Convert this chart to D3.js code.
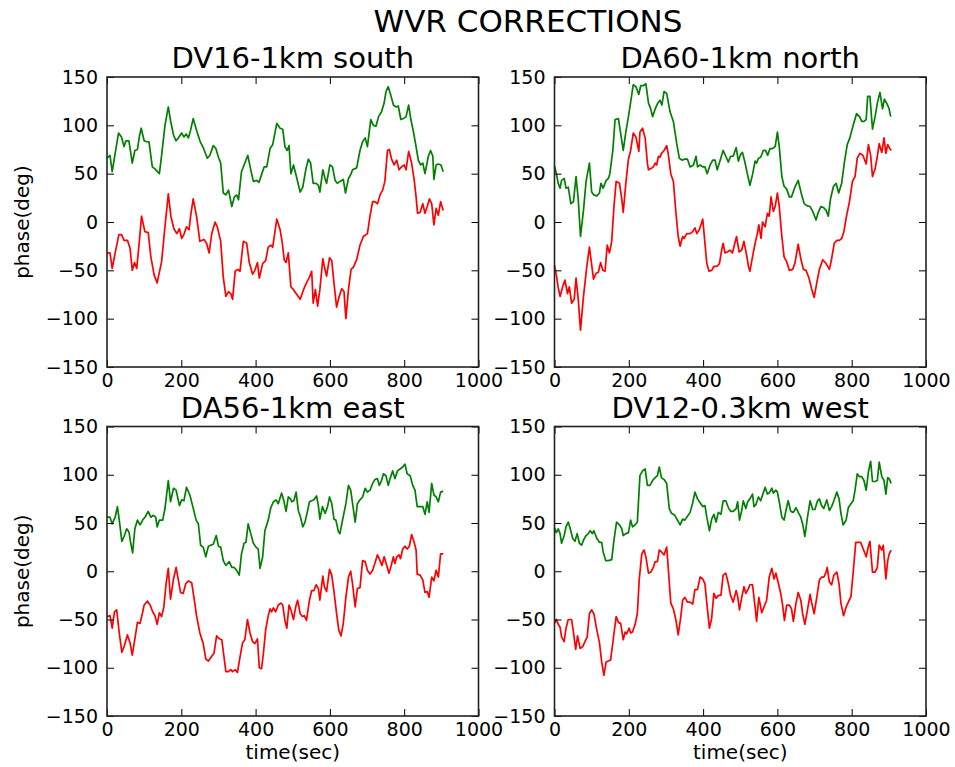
<!DOCTYPE html>
<html>
<head>
<meta charset="utf-8">
<script src="https://cdn.jsdelivr.net/npm/d3@7/dist/d3.min.js"></script>
<style>
  html, body { margin: 0; padding: 0; background: #fff; }
  svg { display: block; font-family: "DejaVu Sans", sans-serif; }
</style>
</head>
<body>
<svg id="chart" width="955" height="767"></svg>
<script>
// WVR phase corrections, [time (sec), phase (deg)] per antenna
const southGreen = [[0,66],[8,69],[14,52],[22,71],[31,92],[39,88],[46,78],[51,84],[59,84],[68,61],[75,74],[82,75],[87,88],[92,97],[100,84],[107,83],[113,83],[122,57],[129,55],[141,50],[147,69],[156,100],[165,119],[171,105],[179,90],[186,84],[192,87],[201,92],[207,88],[213,91],[219,87],[225,95],[232,107],[241,95],[250,84],[259,77],[270,66],[277,69],[286,79],[293,76],[300,67],[306,61],[313,30],[320,28],[327,33],[336,16],[343,26],[349,28],[354,23],[362,52],[369,59],[379,69],[387,54],[394,42],[403,43],[409,41],[416,49],[423,57],[430,57],[439,76],[446,80],[457,102],[466,97],[473,96],[479,78],[485,74],[490,79],[495,50],[502,59],[508,50],[520,31],[527,36],[536,56],[542,65],[548,61],[555,40],[563,40],[569,38],[573,31],[581,54],[587,45],[591,40],[600,59],[607,57],[614,43],[620,40],[627,42],[636,44],[642,30],[650,45],[656,49],[661,54],[672,56],[681,74],[688,83],[695,87],[701,78],[710,106],[717,100],[724,99],[731,109],[739,114],[746,123],[751,135],[757,140],[764,131],[771,121],[778,119],[784,120],[791,106],[798,107],[805,109],[812,121],[818,106],[825,93],[831,80],[838,64],[844,59],[850,61],[856,50],[865,68],[871,74],[877,68],[880,44],[886,59],[892,60],[899,59],[905,52]];
const southRed = [[0,-32],[8,-32],[14,-48],[22,-32],[32,-13],[39,-13],[46,-19],[55,-19],[62,-27],[68,-50],[74,-42],[80,-48],[87,-20],[93,6],[102,-10],[111,-11],[118,-36],[127,-55],[135,-63],[147,-41],[156,-5],[165,29],[172,6],[180,-7],[188,-12],[195,-7],[201,-17],[207,-13],[214,-5],[221,-8],[225,6],[232,24],[241,6],[250,-20],[261,-18],[268,-22],[275,-32],[282,-12],[291,0],[297,-5],[306,-20],[313,-57],[320,-77],[327,-72],[333,-74],[338,-80],[345,-51],[352,-49],[358,-51],[367,-20],[376,-22],[383,-42],[392,-54],[398,-50],[405,-42],[410,-58],[419,-43],[427,-40],[434,-26],[441,-24],[446,-26],[457,3],[466,-8],[472,-22],[477,-39],[482,-42],[488,-32],[495,-67],[502,-70],[509,-74],[520,-80],[529,-70],[537,-63],[545,-57],[551,-51],[555,-84],[561,-70],[567,-87],[573,-70],[581,-38],[585,-46],[591,-56],[599,-37],[605,-40],[612,-67],[618,-88],[625,-77],[632,-69],[638,-72],[643,-100],[650,-70],[657,-49],[663,-47],[672,-39],[681,-24],[690,-15],[701,-12],[708,6],[715,21],[721,21],[728,19],[735,28],[742,33],[748,42],[755,74],[760,75],[766,65],[773,59],[780,64],[786,54],[793,57],[800,59],[805,54],[812,73],[820,61],[827,43],[832,26],[836,9],[843,10],[850,19],[856,9],[862,16],[868,24],[874,19],[880,-3],[886,14],[892,7],[898,21],[905,12]];

const northGreen = [[0,58],[5,50],[10,40],[15,35],[19,43],[26,45],[31,35],[37,36],[44,19],[51,21],[58,47],[64,23],[70,-15],[78,12],[85,42],[94,61],[100,31],[106,28],[114,27],[121,30],[125,40],[131,35],[139,43],[145,45],[149,50],[157,74],[163,106],[172,107],[178,92],[185,74],[192,93],[199,109],[205,124],[212,142],[219,140],[227,132],[232,141],[239,141],[246,143],[253,123],[259,117],[264,109],[271,117],[278,123],[284,126],[289,121],[295,135],[302,133],[311,114],[320,104],[329,81],[336,66],[343,64],[351,65],[358,65],[365,57],[374,59],[381,68],[385,57],[392,59],[399,57],[405,57],[411,50],[419,59],[426,64],[432,64],[438,54],[446,64],[454,74],[461,68],[468,62],[474,68],[481,68],[489,77],[495,63],[501,70],[506,72],[513,61],[519,50],[526,38],[533,49],[540,63],[544,61],[549,66],[555,67],[562,74],[568,74],[574,69],[580,76],[587,76],[594,78],[600,93],[605,78],[612,47],[618,37],[625,34],[632,26],[638,26],[647,36],[656,43],[664,30],[672,19],[679,17],[688,16],[695,11],[704,2],[710,10],[717,16],[724,15],[731,12],[737,6],[743,24],[751,37],[758,40],[765,30],[773,40],[780,61],[788,80],[795,87],[804,100],[813,112],[821,109],[827,104],[833,104],[839,106],[843,130],[849,130],[856,96],[863,109],[869,123],[876,134],[883,117],[888,127],[894,123],[900,118],[905,109]];
const northRed = [[0,-45],[5,-55],[10,-68],[15,-77],[22,-67],[28,-60],[35,-74],[40,-67],[46,-84],[53,-80],[58,-58],[64,-80],[70,-112],[78,-77],[87,-46],[94,-26],[100,-44],[105,-59],[112,-53],[118,-52],[124,-42],[130,-50],[136,-51],[142,-24],[148,-32],[154,-20],[160,16],[166,42],[175,40],[181,24],[185,10],[192,40],[199,65],[205,74],[212,92],[219,88],[227,73],[230,93],[237,97],[244,87],[250,61],[253,54],[259,55],[266,57],[271,61],[275,59],[280,68],[284,67],[288,71],[295,74],[302,79],[306,71],[313,50],[320,42],[327,9],[333,-15],[338,-25],[345,-15],[349,-17],[356,-12],[365,-12],[372,-10],[378,-6],[383,-12],[390,-8],[399,3],[405,-22],[410,-43],[416,-51],[423,-50],[429,-46],[437,-46],[444,-43],[450,-29],[454,-22],[459,-32],[466,-31],[472,-29],[479,-32],[484,-24],[490,-15],[497,-31],[504,-29],[510,-20],[517,-34],[522,-46],[526,-51],[533,-36],[540,-22],[546,-12],[550,-3],[556,-17],[560,0],[567,-5],[573,9],[578,6],[583,26],[589,11],[594,16],[600,30],[605,16],[612,-15],[618,-36],[625,-41],[632,-50],[641,-49],[647,-43],[656,-23],[663,-38],[670,-49],[677,-50],[685,-58],[692,-69],[699,-78],[706,-63],[713,-49],[722,-39],[731,-43],[740,-49],[746,-38],[753,-22],[760,-19],[767,-19],[773,-17],[779,-10],[786,6],[794,21],[802,42],[809,47],[815,66],[822,71],[830,69],[839,60],[845,80],[851,69],[856,47],[863,55],[869,68],[874,81],[881,72],[887,87],[892,71],[897,80],[901,77],[906,74]];

const eastGreen = [[0,56],[8,56],[14,49],[22,56],[28,67],[33,53],[40,31],[46,36],[53,44],[59,41],[64,29],[69,19],[75,44],[82,53],[89,48],[96,53],[102,56],[111,62],[118,56],[125,58],[131,56],[135,46],[141,53],[150,53],[156,65],[165,94],[171,72],[179,86],[186,84],[195,68],[201,74],[207,73],[214,87],[223,79],[231,67],[240,53],[246,49],[252,27],[259,25],[266,15],[273,26],[279,27],[286,28],[294,37],[300,26],[306,25],[313,11],[320,6],[329,10],[336,4],[342,4],[349,1],[356,-4],[362,18],[369,29],[374,30],[380,49],[387,39],[394,29],[401,25],[407,23],[412,3],[419,15],[425,42],[434,53],[441,66],[448,72],[455,74],[461,70],[470,81],[476,73],[482,62],[488,77],[494,75],[497,72],[503,73],[509,82],[515,63],[521,56],[527,46],[533,51],[539,61],[545,72],[551,73],[557,74],[564,78],[569,68],[573,54],[580,67],[587,60],[593,66],[599,77],[605,70],[611,54],[616,53],[623,41],[627,39],[634,53],[643,70],[650,89],[656,84],[663,65],[668,51],[674,70],[681,74],[688,77],[695,86],[701,82],[708,84],[715,91],[721,95],[728,96],[733,89],[739,94],[744,101],[751,99],[757,89],[762,96],[769,104],[775,96],[782,104],[789,106],[796,108],[802,111],[808,101],[816,99],[823,89],[829,84],[835,67],[843,67],[850,67],[856,59],[862,72],[867,61],[874,91],[880,79],[886,77],[892,72],[898,82],[905,83]];
const eastRed = [[0,-47],[8,-46],[14,-59],[20,-42],[26,-40],[33,-64],[40,-84],[46,-78],[55,-66],[62,-74],[68,-87],[75,-70],[82,-53],[89,-54],[95,-44],[100,-35],[109,-31],[116,-35],[123,-42],[129,-46],[135,-55],[141,-43],[147,-47],[153,-37],[159,-13],[165,3],[171,-29],[179,-8],[186,4],[192,-9],[198,-22],[205,-23],[212,-13],[219,-10],[228,-12],[234,-27],[241,-46],[250,-64],[259,-75],[266,-91],[273,-93],[282,-88],[288,-85],[295,-67],[302,-70],[309,-71],[315,-89],[320,-104],[327,-104],[333,-102],[338,-104],[345,-102],[351,-105],[358,-89],[365,-74],[371,-71],[378,-50],[385,-64],[392,-73],[398,-75],[405,-70],[410,-100],[416,-101],[421,-85],[427,-61],[434,-46],[439,-39],[443,-42],[448,-38],[454,-42],[461,-35],[468,-33],[473,-35],[479,-51],[484,-59],[490,-35],[495,-40],[502,-50],[508,-37],[513,-30],[520,-44],[526,-47],[531,-46],[537,-51],[545,-30],[551,-20],[557,-20],[563,-14],[569,-18],[573,-30],[581,-5],[585,-16],[591,-21],[599,2],[605,-4],[611,-21],[618,-44],[624,-61],[630,-67],[636,-54],[643,-27],[650,-6],[656,0],[661,-13],[668,-37],[674,-18],[681,-17],[688,11],[695,10],[701,1],[708,-3],[715,1],[721,8],[728,17],[735,11],[740,6],[746,15],[753,6],[759,-2],[765,6],[771,15],[775,8],[780,15],[786,17],[790,13],[796,23],[802,26],[808,23],[814,26],[820,38],[826,31],[832,22],[835,-3],[843,-4],[850,-9],[856,-22],[862,-21],[867,-27],[874,-6],[880,-10],[886,1],[892,-6],[898,18],[905,18]];

const westGreen = [[0,45],[5,40],[10,44],[15,39],[19,29],[26,37],[31,46],[37,51],[44,42],[49,34],[55,31],[61,39],[67,29],[73,27],[79,33],[85,37],[91,39],[96,42],[102,39],[106,42],[114,34],[121,30],[127,30],[131,20],[138,11],[145,11],[154,12],[160,32],[167,51],[175,48],[181,44],[185,37],[192,39],[199,40],[205,53],[210,46],[217,48],[223,51],[230,99],[237,104],[244,106],[250,89],[257,89],[264,94],[271,97],[277,99],[282,108],[288,97],[295,95],[302,91],[309,65],[315,60],[324,58],[331,53],[338,48],[345,54],[351,53],[358,57],[365,61],[372,71],[378,82],[385,75],[392,71],[399,67],[405,68],[410,56],[417,42],[423,54],[429,59],[435,51],[441,61],[448,59],[454,73],[461,73],[468,66],[474,62],[481,62],[489,65],[493,72],[498,53],[504,63],[508,73],[515,65],[520,72],[526,75],[533,80],[537,67],[542,69],[549,77],[555,73],[560,79],[567,87],[573,80],[578,81],[585,86],[589,81],[596,84],[600,82],[605,72],[612,56],[618,53],[623,63],[629,73],[636,62],[643,61],[650,66],[656,61],[663,56],[668,49],[674,36],[681,56],[688,73],[695,64],[701,64],[708,73],[713,75],[719,68],[725,65],[733,74],[740,63],[746,67],[752,73],[760,82],[766,75],[771,60],[777,48],[785,53],[791,66],[798,70],[804,73],[809,84],[815,101],[821,98],[827,98],[833,94],[839,84],[845,103],[851,114],[856,93],[863,93],[869,94],[874,113],[881,98],[887,94],[892,80],[897,97],[901,96],[906,91]];
const westRed = [[0,-54],[5,-50],[10,-55],[15,-58],[19,-68],[26,-73],[31,-59],[37,-50],[46,-50],[51,-63],[57,-81],[62,-67],[69,-80],[76,-78],[82,-73],[88,-68],[94,-44],[100,-40],[106,-44],[114,-61],[121,-74],[127,-94],[133,-108],[139,-94],[145,-93],[151,-92],[158,-71],[166,-47],[172,-53],[178,-54],[185,-71],[190,-63],[194,-65],[201,-59],[205,-64],[210,-63],[217,-55],[223,-44],[228,-9],[235,18],[241,22],[246,15],[253,-2],[259,-1],[266,4],[271,10],[277,10],[282,22],[288,20],[295,17],[302,25],[308,-6],[313,-33],[320,-39],[327,-51],[333,-66],[340,-47],[345,-30],[351,-27],[358,-32],[365,-32],[372,-34],[378,-19],[385,-19],[392,-6],[399,-8],[405,-13],[410,-33],[417,-59],[423,-49],[429,-23],[435,-28],[441,-25],[448,-25],[454,-4],[461,-2],[468,-13],[474,-25],[481,-32],[489,-20],[493,-26],[498,-40],[504,-27],[510,-16],[515,-23],[522,-18],[526,-14],[533,-14],[540,-37],[544,-52],[550,-27],[558,-43],[564,-37],[571,-30],[578,-6],[585,3],[591,-8],[596,-2],[603,-13],[609,-23],[614,-35],[619,-51],[625,-35],[632,-35],[638,-39],[643,-52],[650,-33],[656,-22],[663,-30],[668,-44],[674,-55],[681,-40],[688,-24],[692,-32],[699,-44],[706,-27],[713,-9],[719,-6],[725,-6],[731,-1],[734,4],[740,-11],[746,-14],[752,-4],[760,-1],[766,-13],[771,-33],[778,-46],[785,-37],[791,-32],[798,-26],[804,-1],[811,30],[818,30],[824,30],[831,23],[839,15],[845,26],[849,31],[856,-1],[863,-1],[869,4],[874,27],[881,22],[885,27],[892,-8],[897,11],[901,18],[906,22]];

const panelTitles = ["DV16-1km south", "DA60-1km north", "DA56-1km east", "DV12-0.3km west"];
const xTicks = [0, 200, 400, 600, 800, 1000];
const yTicks = [-150, -100, -50, 0, 50, 100, 150];
const xDomain = [0, 1000];
const yDomain = [-150, 150];

const panels = [
  { title: panelTitles[0], green: southGreen, red: southRed, col: 0, row: 0 },
  { title: panelTitles[1], green: northGreen, red: northRed, col: 1, row: 0 },
  { title: panelTitles[2], green: eastGreen, red: eastRed, col: 0, row: 1 },
  { title: panelTitles[3], green: westGreen, red: westRed, col: 1, row: 1 }
];

// subplot grid geometry
const colX = [[107, 478.5], [554.5, 926]];
const rowY = [[77, 367], [426.5, 716]];
const tickFont = 19;
const tickLen = 7;
const fmt = d3.format("d");

const svg = d3.select("#chart");

svg.append("text")
  .attr("x", 528).attr("y", 32)
  .attr("text-anchor", "middle")
  .attr("font-size", 31)
  .attr("fill", "#000")
  .text("WVR CORRECTIONS");

panels.forEach(p => {
  const [x0, x1] = colX[p.col];
  const [y0, y1] = rowY[p.row];
  const x = d3.scaleLinear().domain(xDomain).range([x0, x1]);
  const y = d3.scaleLinear().domain(yDomain).range([y1, y0]);
  const g = svg.append("g");

  const line = d3.line().x(d => x(d[0])).y(d => y(d[1]));

  g.append("path").datum(p.green)
    .attr("d", line).attr("fill", "none")
    .attr("stroke", "#008000").attr("stroke-width", 1.7)
    .attr("stroke-linejoin", "round");
  g.append("path").datum(p.red)
    .attr("d", line).attr("fill", "none")
    .attr("stroke", "#ff0000").attr("stroke-width", 1.7)
    .attr("stroke-linejoin", "round");

  // axes with inward ticks on all four sides
  const styleAxis = sel => {
    sel.select(".domain").remove();
    sel.selectAll(".tick line").attr("stroke", "#000").attr("stroke-width", 1);
    sel.selectAll(".tick text").attr("font-size", tickFont)
      .attr("font-family", "DejaVu Sans, sans-serif").attr("fill", "#000");
  };

  g.append("g").attr("transform", `translate(0,${y1})`)
    .call(d3.axisBottom(x).tickValues(xTicks).tickFormat(fmt).tickSizeInner(-tickLen).tickSizeOuter(0).tickPadding(7))
    .call(styleAxis);
  g.append("g").attr("transform", `translate(0,${y0})`)
    .call(d3.axisTop(x).tickValues(xTicks).tickSizeInner(-tickLen).tickSizeOuter(0).tickFormat(""))
    .call(styleAxis);
  g.append("g").attr("transform", `translate(${x0},0)`)
    .call(d3.axisLeft(y).tickValues(yTicks).tickFormat(fmt).tickSizeInner(-tickLen).tickSizeOuter(0).tickPadding(9))
    .call(styleAxis);
  g.append("g").attr("transform", `translate(${x1},0)`)
    .call(d3.axisRight(y).tickValues(yTicks).tickSizeInner(-tickLen).tickSizeOuter(0).tickFormat(""))
    .call(styleAxis);

  g.append("rect")
    .attr("x", x0).attr("y", y0)
    .attr("width", x1 - x0).attr("height", y1 - y0)
    .attr("fill", "none").attr("stroke", "#222").attr("stroke-width", 1.6);

  g.append("text")
    .attr("x", (x0 + x1) / 2).attr("y", y0 - 9)
    .attr("text-anchor", "middle").attr("font-size", 29).attr("fill", "#000")
    .text(p.title);

  if (p.col === 0) {
    g.append("text")
      .attr("transform", `translate(29,${(y0 + y1) / 2}) rotate(-90)`)
      .attr("text-anchor", "middle").attr("font-size", 20).attr("fill", "#000")
      .text("phase(deg)");
  }
  if (p.row === 1) {
    g.append("text")
      .attr("x", (x0 + x1) / 2).attr("y", 759)
      .attr("text-anchor", "middle").attr("font-size", 20).attr("fill", "#000")
      .text("time(sec)");
  }
});
</script>
</body>
</html>
